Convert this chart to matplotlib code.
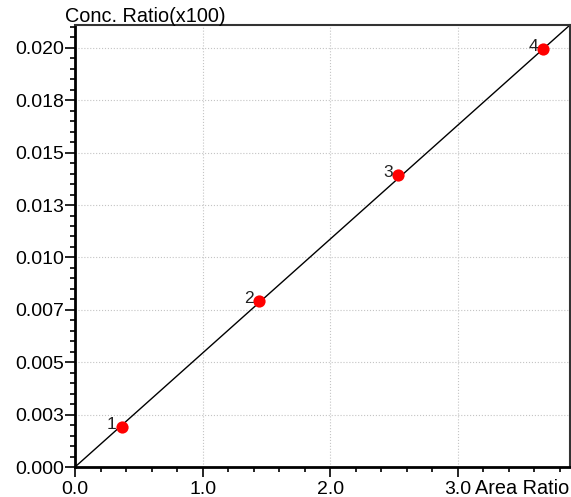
import numpy as np
import matplotlib.pyplot as plt
from matplotlib.ticker import MultipleLocator

# Calibration points
point_ids = ["1", "2", "3", "4"]
area_ratio = [0.366, 1.44, 2.53, 3.67]
conc_ratio = [0.00189, 0.00792, 0.01393, 0.01994]

# Calibration line (through origin)
slope = 0.005436
x_max = 3.88
y_max = 0.02109

y_ticks = [0.0, 0.0025, 0.005, 0.0075, 0.01, 0.0125, 0.015, 0.0175, 0.02]
y_tick_labels = ["0.000", "0.003", "0.005", "0.007", "0.010", "0.013", "0.015", "0.018", "0.020"]
x_ticks = [0.0, 1.0, 2.0, 3.0]
x_tick_labels = ["0.0", "1.0", "2.0", "3.0"]

plt.rcParams['font.family'] = ['Liberation Sans', 'DejaVu Sans']

W, H = 571, 497
fig = plt.figure(figsize=(W / 100, H / 100), dpi=100)
ax = fig.add_axes([75 / W, (H - 467) / H, 495 / W, 442 / H])

# fitted line
xl = np.array([0.0, x_max])
ax.plot(xl, slope * xl, color='black', linewidth=1.0, zorder=2)

# points
ax.plot(area_ratio, conc_ratio, 'o', color='#ff0000', markersize=8.8, markeredgewidth=0, zorder=3)
for pid, xv, yv in zip(point_ids, area_ratio, conc_ratio):
    ax.annotate(pid, (xv, yv), xytext=(-3.5, 2), textcoords='offset points',
                ha='right', va='center', fontsize=12.5, color='#222222')

ax.set_xlim(0, x_max)
ax.set_ylim(0, y_max)
ax.set_xticks(x_ticks)
ax.set_xticklabels(x_tick_labels)
ax.set_yticks(y_ticks)
ax.set_yticklabels(y_tick_labels)
ax.xaxis.set_minor_locator(MultipleLocator(0.2))
ax.yaxis.set_minor_locator(MultipleLocator(0.0005))

ax.tick_params(which='major', direction='out', length=7, width=1.2, labelsize=14, colors='black')
ax.tick_params(which='minor', direction='out', length=3.6, width=1.2)
ax.tick_params(axis='x', pad=3)
ax.tick_params(axis='y', pad=0.5)

ax.grid(True, which='major', color='#c4c4c4', linestyle=':', linewidth=0.8)

for side in ['left', 'bottom']:
    ax.spines[side].set_linewidth(2)
    ax.spines[side].set_color('black')
for side in ['top', 'right']:
    ax.spines[side].set_linewidth(1.5)
    ax.spines[side].set_color('#333333')

# axis titles
fig.text(65 / W, 1 - 17 / H, "Conc. Ratio(x100)", fontsize=14.3, ha='left', va='center')
fig.text(475 / W, 1 - 489 / H, "Area Ratio", fontsize=14.3, ha='left', va='center')

plt.savefig('out.png', dpi=100)
